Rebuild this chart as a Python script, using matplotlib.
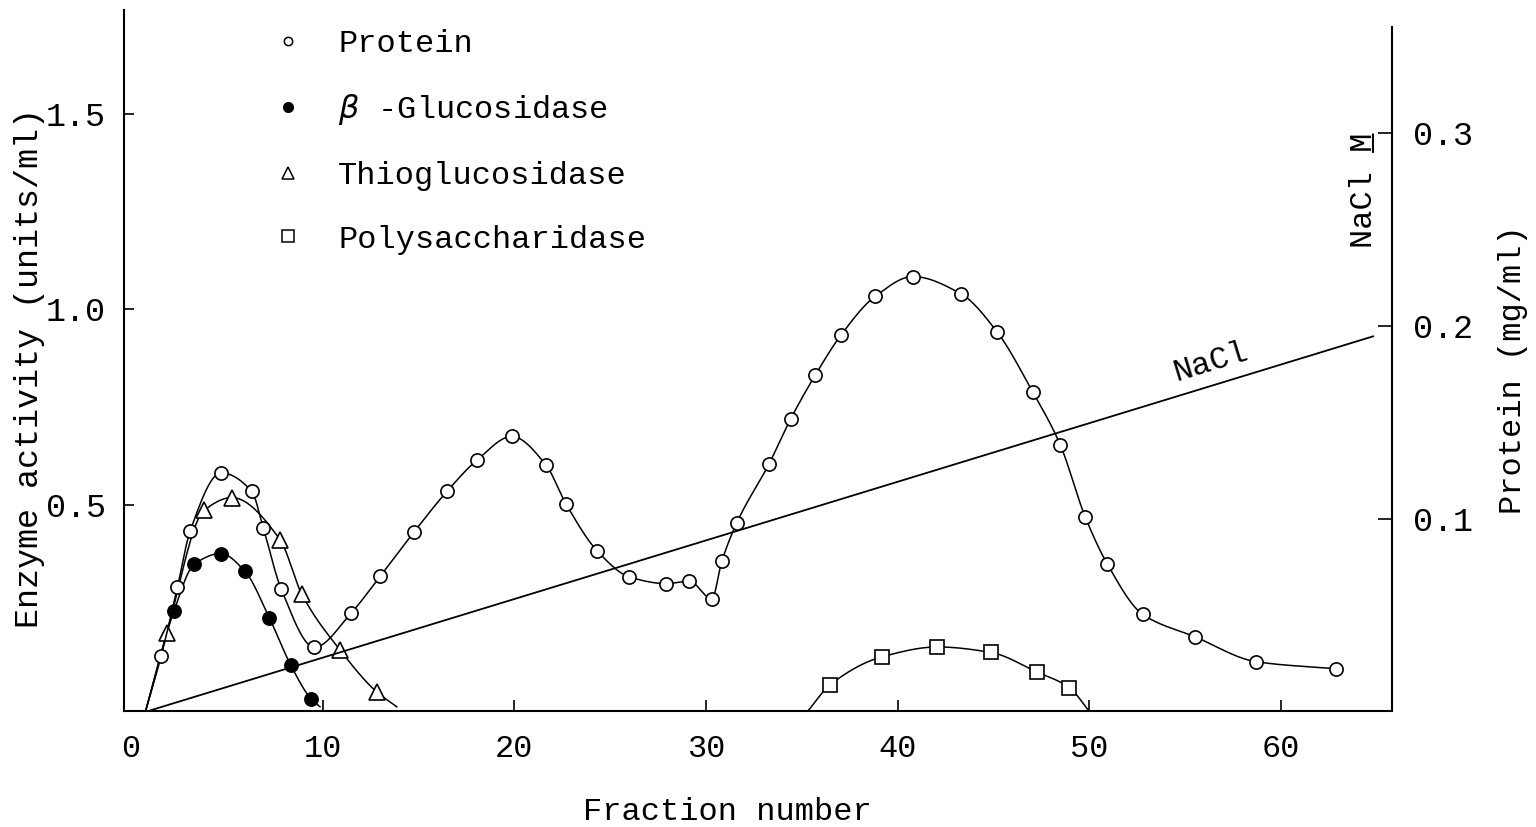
import numpy as np
import matplotlib.pyplot as plt
from matplotlib.lines import Line2D

plt.rcParams['font.family'] = ['Liberation Mono', 'DejaVu Sans']

# Protein (mg/ml), right axis
protein_x = [1.57, 2.42, 3.08, 4.70, 6.30, 6.90, 7.83, 9.57, 11.49, 13.0,
             14.77, 16.51, 18.04, 19.87, 21.64, 22.70, 24.34, 26.0, 27.92, 29.14,
             30.31, 30.83, 31.61, 33.30, 34.43, 35.70, 37.06, 38.83, 40.80, 43.30,
             45.18, 47.06, 48.49, 49.79, 50.95, 52.79, 55.53, 58.72, 62.88]
protein_mg = [0.0287, 0.0644, 0.0934, 0.1237, 0.1141, 0.0952, 0.0636, 0.0333, 0.0511, 0.0701,
              0.0931, 0.1144, 0.1302, 0.1426, 0.1280, 0.1076, 0.0831, 0.0698, 0.0663, 0.0675,
              0.0584, 0.0779, 0.0978, 0.1285, 0.1518, 0.1743, 0.1953, 0.2152, 0.2255, 0.2166,
              0.1970, 0.1656, 0.1383, 0.1010, 0.0764, 0.0504, 0.0387, 0.0258, 0.0221]

# enzyme activities (units/ml), left axis
bgluc_x = [2.24, 3.29, 4.68, 5.95, 7.22, 8.34, 9.38]
bgluc_act = [0.228, 0.347, 0.375, 0.329, 0.210, 0.089, 0.004]

thio_x = [1.86, 3.81, 5.26, 7.78, 8.91, 10.91, 12.82]
thio_act = [0.171, 0.485, 0.518, 0.410, 0.271, 0.128, 0.021]

poly_x = [36.45, 39.21, 42.08, 44.87, 47.27, 48.97]
poly_act = [0.038, 0.111, 0.136, 0.122, 0.072, 0.032]

# where the hand-drawn curves leave / reach the baseline
protein_start = (0.75, 0.0)
bgluc_ends = [(0.75, -0.03), (9.86, -0.017)]
thio_ends = [(0.75, -0.03), (13.87, -0.017)]
poly_ends = [(35.35, -0.026), (50.02, -0.03)]

# NaCl gradient (M)
nacl_x = [0.82, 64.82]
nacl_m = [0.0, 0.1945]

legend_labels = ['Protein', r'$\beta$ -Glucosidase', 'Thioglucosidase', 'Polysaccharidase']


def pchip(xs, ys, n=25):
    xs = np.asarray(xs, float)
    ys = np.asarray(ys, float)
    h = np.diff(xs)
    d = np.diff(ys) / h
    m = np.zeros_like(ys)
    for i in range(1, len(ys) - 1):
        if d[i - 1] * d[i] > 0:
            w1 = 2 * h[i] + h[i - 1]
            w2 = h[i] + 2 * h[i - 1]
            m[i] = (w1 + w2) / (w1 / d[i - 1] + w2 / d[i])
    m[0] = d[0]
    m[-1] = d[-1]
    out_x, out_y = [], []
    t = np.linspace(0, 1, n, endpoint=False)
    for i in range(len(xs) - 1):
        h00 = 2 * t**3 - 3 * t**2 + 1
        h10 = t**3 - 2 * t**2 + t
        h01 = -2 * t**3 + 3 * t**2
        h11 = t**3 - t**2
        out_x.append(xs[i] + t * h[i])
        out_y.append(h00 * ys[i] + h10 * h[i] * m[i] + h01 * ys[i + 1] + h11 * h[i] * m[i + 1])
    out_x.append([xs[-1]])
    out_y.append([ys[-1]])
    return np.concatenate(out_x), np.concatenate(out_y)


def with_ends(xs, ys, ends):
    if len(ends) == 1:
        return [ends[0][0]] + xs, [ends[0][1]] + ys
    return [ends[0][0]] + xs + [ends[1][0]], [ends[0][1]] + ys + [ends[1][1]]


fig = plt.figure(figsize=(15.36, 8.27), dpi=100)
ax = fig.add_axes([0.0807, 0.1397, 0.8255, 0.8482])
ax2 = ax.twinx()

lw = 1.1
ms = 9.5

# enzyme curves on the left axis
for xs, ys, ends, mk, fill, size in [
        (bgluc_x, bgluc_act, bgluc_ends, 'o', 'black', ms),
        (thio_x, thio_act, thio_ends, '^', 'white', 11),
        (poly_x, poly_act, poly_ends, 's', 'white', 10)]:
    lx, ly = with_ends(xs, ys, ends)
    sx, sy = pchip(lx, ly)
    ax.plot(sx, sy, color='black', lw=lw, zorder=2)
    ax.plot(xs, ys, ls='none', marker=mk, ms=size, mfc=fill, mec='black', mew=1.2, zorder=3)

# protein and NaCl on the right axis
lx, ly = with_ends(protein_x, protein_mg, [protein_start])
sx, sy = pchip(lx, ly)
ax2.plot(sx, sy, color='black', lw=lw, zorder=2)
ax2.plot(protein_x, protein_mg, ls='none', marker='o', ms=ms, mfc='white', mec='black', mew=1.2, zorder=3)
ax2.plot(nacl_x, nacl_m, color='black', lw=1.3, zorder=1)

lab_x = 56.6
ax2.annotate('NaCl', xy=(lab_x, np.interp(lab_x, nacl_x, nacl_m)), xytext=(0, 6),
             textcoords='offset points', ha='center', va='bottom',
             rotation=17, rotation_mode='anchor', fontsize=23)

ax.set_xlim(-0.37, 65.8)
ax.set_ylim(-0.029, 1.765)
ax2.set_ylim(0, 0.3637)

ax.set_xticks(range(0, 70, 10))
ax.set_yticks([0.5, 1.0, 1.5])
ax2.set_yticks([0.1, 0.2, 0.3])
ax.tick_params(axis='x', direction='in', length=8, width=1.2, pad=16, labelsize=23)
ax.tick_params(axis='y', direction='in', length=7, width=1.2, pad=13, labelsize=24)
ax2.tick_params(axis='y', direction='in', length=10, width=1.2, pad=15, labelsize=24)
ax.xaxis.get_major_ticks()[0].tick1line.set_visible(False)

for s in ['top', 'right']:
    ax.spines[s].set_visible(False)
for s in ['top', 'left', 'bottom']:
    ax2.spines[s].set_visible(False)
ax.spines['left'].set_linewidth(1.5)
ax.spines['bottom'].set_linewidth(1.5)
ax2.spines['right'].set_linewidth(1.5)
ax2.spines['right'].set_bounds(0, 0.355)

ax.set_xlabel('Fraction number', fontsize=23)
ax.xaxis.set_label_coords(0.476, -0.122)
ax.set_ylabel('Enzyme activity (units/ml)', fontsize=24)
ax.yaxis.set_label_coords(-0.062, 0.49)
ax2.set_ylabel('Protein (mg/ml)', fontsize=23)
ax2.yaxis.set_label_coords(1.084, 0.488)

# NaCl M label inside the right edge, with the M underlined
for txt in ['NaCl M', '     _']:
    ax.text(0.984, 0.661, txt, transform=ax.transAxes, rotation=90,
            rotation_mode='anchor', ha='left', va='baseline', fontsize=23)

handles = [
    Line2D([], [], ls='none', marker='o', ms=6, mfc='white', mec='black', mew=1.1),
    Line2D([], [], ls='none', marker='o', ms=7, mfc='black', mec='black'),
    Line2D([], [], ls='none', marker='^', ms=8, mfc='white', mec='black', mew=1.1),
    Line2D([], [], ls='none', marker='s', ms=8, mfc='white', mec='black', mew=1.1),
]
ax.legend(handles, legend_labels, loc='upper left', bbox_to_anchor=(0.1167, 0.973),
          frameon=False, fontsize=23, labelspacing=1.05, handlelength=1.0,
          handletextpad=1.07, borderpad=0, borderaxespad=0)

fig.savefig('out.png', dpi=100)
